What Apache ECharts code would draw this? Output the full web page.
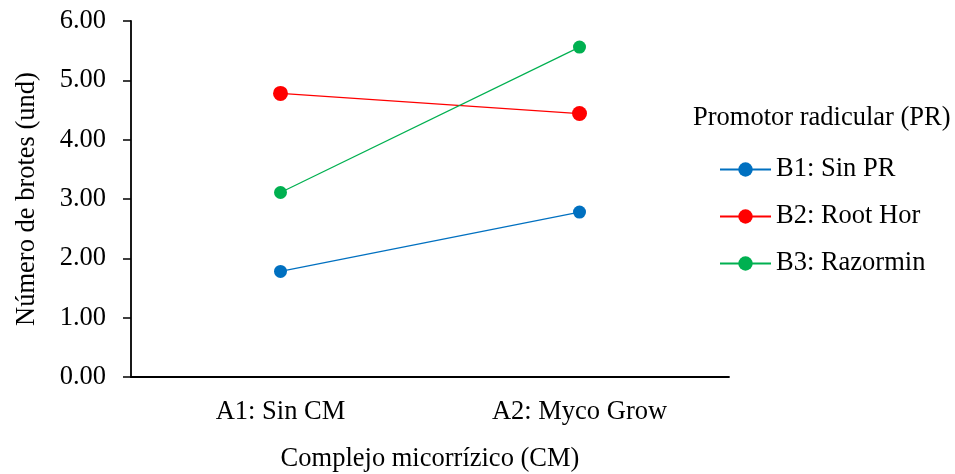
<!DOCTYPE html>
<html>
<head>
<meta charset="utf-8">
<script src="https://cdn.jsdelivr.net/npm/echarts@6/dist/echarts.min.js"></script>
<style>html,body{margin:0;padding:0;background:#fff}#c{width:955px;height:474px}</style>
</head>
<body>
<div id="c"></div>
<script>
const categories = ['A1: Sin CM', 'A2: Myco Grow'];
const seriesNames = ['B1: Sin PR', 'B2: Root Hor', 'B3: Razormin'];
const b1 = [1.78, 2.78];
const b2 = [4.78, 4.44];
const b3 = [3.11, 5.56];
const colors = ['#0070C0', '#FF0000', '#00B050'];
const FONT = "'Liberation Serif', 'Times New Roman', serif";
const FS = 26.5;

const chart = echarts.init(document.getElementById('c'));
const mk = (name, data, color, size) => ({
  name, type: 'line', data,
  symbol: 'circle', symbolSize: size,
  lineStyle: { color, width: 1.2 },
  itemStyle: { color },
  emphasis: { disabled: true },
  animation: false
});
chart.setOption({
  animation: false,
  textStyle: { fontFamily: FONT, color: '#000' },
  grid: { left: 131, right: 226, top: 21, bottom: 97, outerBoundsMode: 'none', containLabel: false },
  xAxis: {
    type: 'category', data: categories, boundaryGap: true,
    name: 'Complejo micorrízico (CM)', nameLocation: 'middle', nameGap: 69,
    nameTextStyle: { fontFamily: FONT, fontSize: FS, color: '#000' },
    axisLine: { lineStyle: { color: '#000', width: 1.8 } },
    axisTick: { show: false },
    axisLabel: { fontFamily: FONT, fontSize: FS, color: '#000', margin: 22 }
  },
  yAxis: {
    type: 'value', min: 0, max: 6, interval: 1,
    name: 'Número de brotes (und)', nameLocation: 'middle', nameGap: 90, nameRotate: 90,
    nameTextStyle: { fontFamily: FONT, fontSize: FS, color: '#000' },
    axisLine: { show: true, lineStyle: { color: '#000', width: 1.8 } },
    axisTick: { show: true, length: 8, lineStyle: { color: '#000', width: 1.5 } },
    splitLine: { show: false },
    axisLabel: { fontFamily: FONT, fontSize: FS, color: '#000', margin: 25, formatter: v => v.toFixed(2) }
  },
  legend: {
    orient: 'vertical', left: 719, top: 156, padding: 0,
    itemWidth: 51, itemHeight: 18, itemGap: 20,
    textStyle: { fontFamily: FONT, fontSize: FS, color: '#000' },
    data: seriesNames
  },
  graphic: [{
    type: 'text', left: 693, top: 105,
    style: { text: 'Promotor radicular (PR)', font: FS + 'px ' + FONT, fill: '#000' }
  }],
  series: [
    mk(seriesNames[0], b1, colors[0], 13),
    mk(seriesNames[1], b2, colors[1], 15),
    mk(seriesNames[2], b3, colors[2], 13)
  ]
});
</script>
</body>
</html>
